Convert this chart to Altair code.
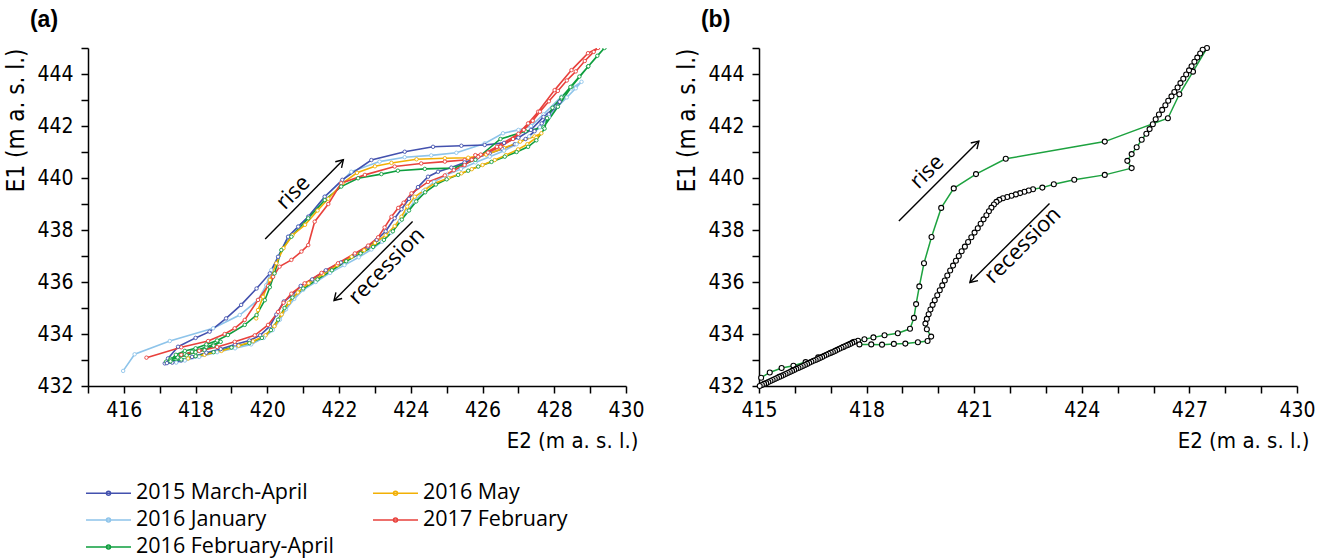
import math
import altair as alt
import pandas as pd

# ---------------- axes / scales ----------------
X_DOMAIN = [415, 430]
Y_DOMAIN = [432, 445]
X_TICKS = list(range(415, 431))
Y_TICKS = list(range(432, 446))
W, H = 538, 338

# ---------------- panel (a) series ----------------
LEGEND_ORDER = ["2015 March-April", "2016 January", "2016 February-April", "2016 May", "2017 February"]
LEGEND_COLORS = ["#4351AE", "#8EC4EA", "#0E9E3E", "#F2B005", "#E8413C"]
DRAW_ORDER = ["2016 January", "2015 March-April", "2016 February-April", "2016 May", "2017 February"]

MARCH_APRIL_2015 = [
    (417.14, 432.87), (417.23, 433.06), (417.51, 433.51), (418.0, 433.85), (418.39, 434.09),
    (418.85, 434.6), (419.27, 435.12), (419.7, 435.75), (420.07, 436.33), (420.3, 436.97),
    (420.58, 437.74), (420.86, 438.13), (421.14, 438.51), (421.6, 439.28), (422.09, 439.93),
    (422.9, 440.69), (423.83, 441.01), (424.62, 441.2), (425.41, 441.24), (426.06, 441.27),
    (426.6, 441.35), (427.0, 441.55), (427.35, 441.85), (427.7, 442.35), (428.0, 442.7),
    (428.15, 442.93),
    (428.05, 442.75), (427.85, 442.45), (427.65, 442.1), (427.45, 441.8), (427.2, 441.5),
    (426.9, 441.3), (426.55, 441.12), (426.2, 440.95), (425.85, 440.78), (425.5, 440.6),
    (425.13, 440.4), (424.76, 440.24), (424.48, 440.05), (424.2, 439.65), (423.95, 439.2),
    (423.74, 438.8), (423.55, 438.45), (423.3, 437.95), (423.05, 437.62), (422.8, 437.35),
    (422.44, 437.05), (422.05, 436.75), (421.63, 436.45), (421.25, 436.1), (420.93, 435.85),
    (420.7, 435.5), (420.46, 435.25), (420.25, 434.75), (420.07, 434.3), (419.8, 433.95),
    (419.5, 433.75), (419.1, 433.6), (418.7, 433.42), (418.3, 433.28), (417.9, 433.12),
    (417.6, 432.98), (417.35, 432.9), (417.2, 432.88),
]

JANUARY_2016 = [
    (415.98, 432.58), (416.3, 433.22), (417.28, 433.73), (418.49, 434.22), (419.23, 434.73),
    (419.74, 435.31), (419.97, 435.88), (420.11, 436.46), (420.3, 436.97), (420.58, 437.74),
    (420.86, 438.13), (421.14, 438.51), (421.6, 439.28), (422.06, 439.86), (422.34, 440.24),
    (423.13, 440.63), (423.83, 440.8), (424.57, 440.87), (425.27, 440.97), (426.06, 441.33),
    (426.57, 441.72), (427.0, 441.85), (427.35, 442.0), (427.7, 442.45), (428.2, 443.13),
    (428.48, 443.45), (428.76, 443.7),
    (428.6, 443.45), (428.35, 443.1), (428.1, 442.75), (427.85, 442.35), (427.6, 441.95),
    (427.3, 441.6), (426.95, 441.3), (426.6, 441.05), (426.2, 440.82), (425.8, 440.6),
    (425.4, 440.35), (425.0, 440.12), (424.65, 439.85), (424.35, 439.5), (424.1, 439.1),
    (423.9, 438.72), (423.7, 438.35), (423.45, 437.9), (423.2, 437.55), (422.9, 437.25),
    (422.55, 436.95), (422.15, 436.65), (421.75, 436.35), (421.35, 436.0), (421.0, 435.7),
    (420.75, 435.35), (420.52, 434.95), (420.35, 434.55), (420.15, 434.15), (419.9, 433.85),
    (419.55, 433.6), (419.1, 433.45), (418.6, 433.3), (418.1, 433.12), (417.7, 432.98),
    (417.46, 432.9),
]

MAY_2016 = [
    (419.69, 434.6), (419.74, 434.92), (419.88, 435.43), (420.07, 436.08), (420.25, 436.72),
    (420.45, 437.3), (420.7, 437.8), (421.05, 438.2), (421.4, 438.75), (421.7, 439.2),
    (422.1, 439.8), (422.5, 440.2), (423.0, 440.45), (423.46, 440.58), (424.16, 440.72),
    (424.95, 440.76), (425.6, 440.78), (426.1, 440.9), (426.6, 441.15), (427.05, 441.4),
    (427.45, 441.6), (427.64, 441.72),
    (427.5, 441.55), (427.25, 441.3), (426.99, 441.1), (426.65, 440.88), (426.34, 440.69),
    (426.0, 440.5), (425.7, 440.34), (425.41, 440.18), (425.05, 440.0), (424.67, 439.8),
    (424.4, 439.55), (424.11, 439.28), (423.9, 438.9), (423.74, 438.51), (423.55, 438.15),
    (423.3, 437.8), (423.0, 437.5), (422.7, 437.22), (422.35, 436.97), (421.95, 436.65),
    (421.55, 436.3), (421.15, 435.95), (420.85, 435.6), (420.6, 435.2), (420.4, 434.75),
    (420.2, 434.3), (419.95, 433.95), (419.6, 433.72), (419.2, 433.55), (418.72, 433.35),
    (418.25, 433.2), (417.79, 433.06),
]

FEBRUARY_2017 = [
    (416.63, 433.09), (417.6, 433.49), (418.35, 433.73), (418.81, 434.0), (419.09, 434.22),
    (419.37, 434.54), (419.74, 435.31), (420.02, 435.85), (420.16, 436.2), (420.34, 436.59),
    (420.67, 436.85), (420.95, 437.17), (421.14, 437.42), (421.32, 438.32), (421.7, 439.0),
    (422.06, 439.8), (422.72, 440.12), (423.55, 440.44), (424.29, 440.56), (424.95, 440.63),
    (425.5, 440.69), (425.88, 440.82), (426.4, 441.2), (427.0, 441.7), (427.27, 442.1),
    (427.55, 442.55), (428.01, 443.38), (428.48, 444.15), (428.94, 444.8), (429.22, 445.0),
    (429.1, 444.85), (428.85, 444.5), (428.6, 444.1), (428.35, 443.75), (428.1, 443.35),
    (427.85, 442.95), (427.6, 442.55), (427.4, 442.2), (427.15, 441.85), (426.85, 441.5),
    (426.5, 441.2), (426.15, 440.98), (425.88, 440.82), (425.8, 440.88), (425.95, 440.9),
    (425.7, 440.7), (425.5, 440.5), (425.2, 440.3), (424.95, 440.1), (424.48, 439.85),
    (424.02, 439.41), (423.8, 439.05), (423.65, 438.85), (423.46, 438.51), (423.27, 438.1),
    (423.09, 437.72), (422.81, 437.4), (422.44, 437.1), (421.97, 436.72), (421.51, 436.35),
    (421.04, 435.95), (420.67, 435.55), (420.45, 435.2), (420.3, 434.85), (420.02, 434.35),
    (419.65, 433.95), (419.09, 433.7), (418.6, 433.5), (418.1, 433.35), (417.6, 433.2),
]

FEBRUARY_APRIL_2016 = [
    (417.18, 432.94), (417.3, 433.05), (417.5, 433.15), (417.7, 433.22), (417.9, 433.32),
    (418.1, 433.4), (418.3, 433.5), (418.5, 433.6), (418.7, 433.7), (418.5, 433.55),
    (418.25, 433.38), (418.0, 433.3), (417.75, 433.18), (417.5, 433.1), (417.3, 433.0),
    (417.45, 433.2), (417.7, 433.35), (418.0, 433.45), (418.3, 433.6), (418.6, 433.75),
    (418.9, 433.96), (419.37, 434.35), (419.7, 434.73), (419.93, 435.3), (420.07, 435.8),
    (420.2, 436.33), (420.39, 437.23), (420.67, 437.74), (421.14, 438.45), (421.6, 439.15),
    (422.06, 439.67), (422.53, 439.99), (423.18, 440.15), (423.64, 440.28), (424.39, 440.35),
    (425.2, 440.38), (425.8, 440.7), (426.5, 441.5), (427.2, 441.8), (427.7, 441.95),
    (428.1, 442.74), (428.48, 443.51), (428.94, 444.28), (429.4, 445.0),
    (429.2, 444.7), (428.95, 444.3), (428.7, 443.9), (428.45, 443.5), (428.2, 443.1),
    (427.95, 442.7), (427.8, 442.3), (427.73, 441.9), (427.5, 441.45), (427.27, 441.2),
    (426.95, 441.0), (426.62, 440.82), (426.25, 440.62), (425.88, 440.44), (425.6, 440.28),
    (425.32, 440.12), (425.0, 439.95), (424.7, 439.75), (424.4, 439.45), (424.15, 439.1),
    (423.95, 438.75), (423.75, 438.4), (423.5, 437.95), (423.25, 437.62), (422.95, 437.35),
    (422.6, 437.1), (422.2, 436.8), (421.8, 436.45), (421.4, 436.1), (421.0, 435.75),
    (420.7, 435.4), (420.48, 435.0), (420.3, 434.55), (420.1, 434.15), (419.85, 433.85),
    (419.5, 433.65), (419.0, 433.48), (418.5, 433.3), (418.0, 433.15), (417.6, 433.02),
    (417.3, 432.95),
]

SERIES_DATA = {
    "2015 March-April": MARCH_APRIL_2015,
    "2016 January": JANUARY_2016,
    "2016 February-April": FEBRUARY_APRIL_2016,
    "2016 May": MAY_2016,
    "2017 February": FEBRUARY_2017,
}

# ---------------- panel (b) event ----------------
EVENT_B = [
    (415.06, 432.32), (415.3, 432.52), (415.63, 432.69), (415.96, 432.78), (416.3, 432.92),
    (416.65, 433.1), (417.0, 433.28), (417.35, 433.5), (417.62, 433.68), (417.76, 433.74),
    (417.94, 433.8), (418.19, 433.87), (418.5, 433.95), (418.87, 434.03), (419.21, 434.2),
    (419.32, 434.62), (419.38, 435.15), (419.47, 435.83), (419.6, 436.72), (419.81, 437.73),
    (420.08, 438.85), (420.43, 439.6), (421.05, 440.15), (421.88, 440.74), (424.64, 441.4),
    (426.4, 442.3), (426.72, 443.22), (427.1, 444.09), (427.49, 445.0),
    (427.37, 444.93), (427.3, 444.79), (427.22, 444.63), (427.14, 444.47), (427.06, 444.3),
    (426.99, 444.14), (426.91, 443.98), (426.83, 443.82), (426.75, 443.65), (426.67, 443.48),
    (426.58, 443.31), (426.5, 443.14), (426.41, 442.97), (426.33, 442.8), (426.24, 442.62),
    (426.15, 442.44), (426.06, 442.26), (425.98, 442.07), (425.89, 441.88), (425.8, 441.7),
    (425.67, 441.47), (425.53, 441.18), (425.39, 440.92), (425.27, 440.66), (425.39, 440.38),
    (424.64, 440.12), (423.79, 439.93), (423.22, 439.76), (422.9, 439.63), (422.64, 439.57),
    (422.52, 439.52), (422.4, 439.47), (422.28, 439.42), (422.16, 439.37), (422.04, 439.32),
    (421.92, 439.27), (421.8, 439.22), (421.7, 439.16), (421.62, 439.08), (421.55, 438.98),
    (421.48, 438.86), (421.41, 438.72), (421.34, 438.57), (421.26, 438.41), (421.18, 438.24),
    (421.1, 438.07), (421.01, 437.9), (420.92, 437.72), (420.83, 437.54), (420.74, 437.36),
    (420.65, 437.18), (420.57, 437.0), (420.49, 436.82), (420.41, 436.63), (420.33, 436.44),
    (420.25, 436.25), (420.18, 436.06), (420.11, 435.87), (420.04, 435.68), (419.97, 435.49),
    (419.9, 435.3), (419.84, 435.12), (419.78, 434.94), (419.73, 434.76), (419.68, 434.58),
    (419.64, 434.4), (419.68, 434.18), (419.8, 433.9), (419.7, 433.73), (419.43, 433.68),
    (419.08, 433.63), (418.76, 433.62), (418.43, 433.59), (418.13, 433.6), (417.8, 433.6),
    (417.66, 433.7), (417.6, 433.66), (417.54, 433.62), (417.48, 433.58), (417.42, 433.55),
    (417.36, 433.51), (417.3, 433.47), (417.24, 433.43), (417.18, 433.39), (417.12, 433.35),
    (417.06, 433.31), (417.0, 433.28), (416.94, 433.24), (416.88, 433.2), (416.82, 433.16),
    (416.76, 433.12), (416.7, 433.08), (416.64, 433.04), (416.58, 433.0), (416.52, 432.97),
    (416.46, 432.93), (416.4, 432.89), (416.34, 432.85), (416.28, 432.81), (416.22, 432.77),
    (416.16, 432.73), (416.1, 432.69), (416.04, 432.66), (415.98, 432.62), (415.92, 432.58),
    (415.86, 432.54), (415.8, 432.5), (415.74, 432.46), (415.68, 432.42), (415.62, 432.38),
    (415.56, 432.35), (415.5, 432.31), (415.44, 432.27), (415.38, 432.23), (415.32, 432.19),
    (415.26, 432.15), (415.2, 432.11), (415.14, 432.08), (415.08, 432.04), (415.02, 432.0),
]

# ---------------- annotations ----------------
ARROWS_A = [(419.94, 437.65, 422.12, 440.7), (424.05, 438.33, 421.86, 435.29)]
LABELS_A = [("rise", 420.72, 439.45), ("recession", 423.32, 436.62)]
ARROWS_B = [(418.9, 438.35, 421.13, 441.42), (423.1, 439.02, 420.88, 435.98)]
LABELS_B = [("rise", 419.68, 440.25), ("recession", 422.35, 437.42)]

GREEN_B = "#1DA23F"
NUM_FONT = "Liberation Sans Narrow, DejaVu Sans Condensed, sans-serif"
TXT_FONT = "Open Sans, Lato, sans-serif"

PX_X = W / (X_DOMAIN[1] - X_DOMAIN[0])
PX_Y = H / (Y_DOMAIN[1] - Y_DOMAIN[0])


def arrow_frames(arrows, labels):
    rows = []
    for x1, y1, x2, y2 in arrows:
        ang = math.degrees(math.atan2(-(y2 - y1) * PX_Y, (x2 - x1) * PX_X)) % 360
        rows.append({"x": x1, "y": y1, "x2": x2, "y2": y2, "ang": ang})
    adf = pd.DataFrame(rows)
    text_ang = rows[0]["ang"]
    tdf = pd.DataFrame([{"t": t, "x": x, "y": y} for t, x, y in labels])
    return adf, tdf, text_ang


def xscale():
    return alt.Scale(domain=X_DOMAIN, nice=False, zero=False)


def yscale():
    return alt.Scale(domain=Y_DOMAIN, nice=False, zero=False)


def x_axis(label_expr):
    return alt.Axis(values=X_TICKS, labelExpr=label_expr, title="E2  (m a. s. l.)",
                    titleAlign="right", titleX=W + 12, titleY=44, titleFontSize=22,
                    titleBaseline="top", labelFlush=False, labelOverlap=False, format="d")


def y_axis():
    return alt.Axis(values=Y_TICKS, labelExpr="datum.value % 2 == 0 ? datum.label : ''",
                    title="E1 (m a. s. l.)", titleAnchor="end", labelFlush=False,
                    labelOverlap=False, format="d", titlePadding=8, titleFontSize=24)


def annotation_layers(arrows, labels, xax, yax):
    adf, tdf, tang = arrow_frames(arrows, labels)
    rules = alt.Chart(adf).mark_rule(color="black", strokeWidth=1.4).encode(
        x=alt.X("x:Q", scale=xscale(), axis=xax), y=alt.Y("y:Q", scale=yscale(), axis=yax),
        x2="x2:Q", y2="y2:Q")
    heads = alt.Chart(adf).mark_point(shape="M-1,-0.62L0,0L-1,0.62", filled=False, color="black",
                                      strokeWidth=1.4, size=200, opacity=1).encode(
        x=alt.X("x2:Q", scale=xscale(), axis=xax), y=alt.Y("y2:Q", scale=yscale(), axis=yax),
        angle=alt.Angle("ang:Q", scale=None))
    texts = alt.Chart(tdf).mark_text(font=TXT_FONT, fontSize=22, color="black", angle=tang,
                                     align="center", baseline="middle").encode(
        x=alt.X("x:Q", scale=xscale(), axis=xax), y=alt.Y("y:Q", scale=yscale(), axis=yax),
        text="t:N")
    return [rules, heads, texts]


# ---------------- data frames ----------------
rows_a = []
for name in DRAW_ORDER:
    for i, (x, y) in enumerate(SERIES_DATA[name]):
        rows_a.append({"series": name, "i": i, "x": x, "y": y})
df_a = pd.DataFrame(rows_a)

df_b = pd.DataFrame([{"i": i, "x": x, "y": y} for i, (x, y) in enumerate(EVENT_B)])

LEG_PATH = "M-1,0H1M0.09,0A0.09,0.09,0,1,1,-0.09,0A0.09,0.09,0,1,1,0.09,0"

legend = alt.Legend(title=None, orient="none", legendX=-3, legendY=435, columns=2,
                    symbolType=LEG_PATH, symbolSize=2025, symbolStrokeWidth=1.5,
                    symbolFillColor="white", clipHeight=20, rowPadding=5,
                    columnPadding=38, labelFont=TXT_FONT, labelFontSize=21.5,
                    labelColor="black", labelOffset=4, labelLimit=400)

XA = x_axis("datum.value % 2 == 0 ? datum.label : ''")
XB = x_axis("(datum.value - 415) % 3 == 0 ? datum.label : ''")
YAX = y_axis()

lines_a = alt.Chart(df_a).mark_line(
    strokeWidth=1.6, clip=True,
    point=alt.OverlayMarkDef(filled=False, fill="white", size=12, strokeWidth=0.9, clip=True, opacity=1),
).encode(
    x=alt.X("x:Q", scale=xscale(), axis=XA),
    y=alt.Y("y:Q", scale=yscale(), axis=YAX),
    color=alt.Color("series:N", scale=alt.Scale(domain=LEGEND_ORDER, range=LEGEND_COLORS), legend=legend),
    order=alt.Order("i:Q"),
)

panel_a = alt.layer(lines_a, *annotation_layers(ARROWS_A, LABELS_A, XA, YAX)).properties(
    width=W, height=H,
    title=alt.TitleParams("(a)", anchor="start", dx=25, fontSize=23, fontWeight="bold",
                          font="Liberation Sans, Arial, sans-serif", offset=5))

line_b = alt.Chart(df_b).mark_line(color=GREEN_B, strokeWidth=1.5).encode(
    x=alt.X("x:Q", scale=xscale(), axis=XB),
    y=alt.Y("y:Q", scale=yscale(), axis=YAX),
    order=alt.Order("i:Q"),
)
pts_b = alt.Chart(df_b).mark_point(filled=False, fill="white", stroke="black", size=25,
                                   strokeWidth=1.1, opacity=1).encode(
    x=alt.X("x:Q", scale=xscale(), axis=XB), y=alt.Y("y:Q", scale=yscale(), axis=YAX))

panel_b = alt.layer(line_b, pts_b, *annotation_layers(ARROWS_B, LABELS_B, XB, YAX)).properties(
    width=W, height=H,
    title=alt.TitleParams("(b)", anchor="start", dx=25, fontSize=23, fontWeight="bold",
                          font="Liberation Sans, Arial, sans-serif", offset=5))

chart = alt.hconcat(panel_a, panel_b, spacing=30).properties(
    padding={"left": 4, "top": 9, "right": 5, "bottom": 0}
).configure_view(stroke=None).configure_axis(
    grid=False, domainColor="black", domainWidth=1.5, tickColor="black", tickWidth=1.5,
    tickSize=7, labelFont=NUM_FONT, labelFontSize=21, labelColor="black", labelPadding=6,
    labelOverlap=False, labelFlush=False,
    titleFont=NUM_FONT, titleFontWeight="normal", titleColor="black",
).configure_axisY(labelPadding=8)

chart.save("out.html", embed_options={"renderer": "svg", "actions": False})
